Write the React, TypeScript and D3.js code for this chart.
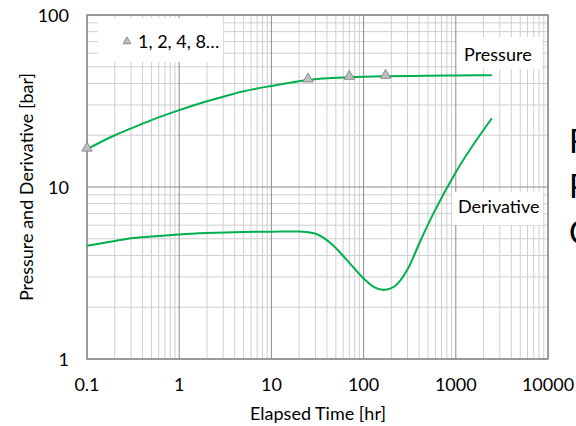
import * as d3 from "d3";

// pressure curve (hr, bar)
const pressureTime = [0.1, 0.2, 0.3, 0.5, 1, 2, 3, 5, 10, 25, 70, 173, 500, 1000, 2460];
const pressureValue = [16.6, 20, 21.9, 24.5, 28, 31.5, 33.5, 36, 38.7, 41.9, 43.4, 44, 44.3, 44.5, 44.6];

// derivative curve
const derivTime = [0.1, 0.2, 0.3, 0.5, 1, 2, 5, 10, 20, 29, 44, 66, 100, 130, 166, 214, 298, 417, 581, 1000, 2460];
const derivValue = [4.56, 4.85, 5.03, 5.15, 5.3, 5.4, 5.48, 5.5, 5.52, 5.38, 4.71, 3.76, 2.94, 2.62, 2.52, 2.63, 3.3, 4.92, 7.14, 12.2, 25.1];

// triangle markers on the pressure curve
const markerTime = [0.1, 25, 70, 173];
const markerValue = [16.6, 41.9, 43.4, 44];

const xTicks = [0.1, 1, 10, 100, 1000, 10000];
const yTicks = [1, 10, 100];

const FONT = "Lato, 'Open Sans', sans-serif";
const GREEN = "#00b050";
const FS = 18;

const App = () => {
  const left = 87, right = 548, top = 15, bottom = 359;

  const x = d3.scaleLog().domain([0.1, 10000]).range([left, right]);
  const y = d3.scaleLog().domain([1, 100]).range([bottom, top]);

  // minor grid values
  const xGrid: number[] = [];
  for (let e = -1; e < 4; e++) for (let m = 2; m <= 9; m++) xGrid.push(m * Math.pow(10, e));
  const yGrid: number[] = [];
  for (let e = 0; e < 2; e++) for (let m = 2; m <= 9; m++) yGrid.push(m * Math.pow(10, e));

  const line = d3.line<[number, number]>()
    .x((d) => x(d[0]))
    .y((d) => y(d[1]))
    .curve(d3.curveMonotoneX);

  const pressurePts = pressureTime.map((t, i) => [t, pressureValue[i]] as [number, number]);
  const derivPts = derivTime.map((t, i) => [t, derivValue[i]] as [number, number]);

  const tri = d3.symbol().type(d3.symbolTriangle).size(46)();
  const triSmall = d3.symbol().type(d3.symbolTriangle).size(26)();

  return (
    <svg width={576} height={426} style={{ position: "absolute", left: 0, top: 0, background: "#fff" }} fontFamily={FONT}>
      {/* minor grid */}
      {xGrid.map((v) => (
        <line key={"xg" + v} x1={x(v)} x2={x(v)} y1={top} y2={bottom} stroke="#cfcfcf" strokeWidth={1} />
      ))}
      {yGrid.map((v) => (
        <line key={"yg" + v} x1={left} x2={right} y1={y(v)} y2={y(v)} stroke="#cfcfcf" strokeWidth={1} />
      ))}
      {/* major grid */}
      {xTicks.map((v) => (
        <line key={"xm" + v} x1={x(v)} x2={x(v)} y1={top} y2={bottom} stroke="#8c8c8c" strokeWidth={1} />
      ))}
      {yTicks.map((v) => (
        <line key={"ym" + v} x1={left} x2={right} y1={y(v)} y2={y(v)} stroke="#8c8c8c" strokeWidth={1} />
      ))}
      <rect x={left} y={top} width={right - left} height={bottom - top} fill="none" stroke="#8c8c8c" strokeWidth={1.5} />

      {/* label boxes */}
      <rect x={98} y={18} width={125} height={44} fill="#fff" />
      <path d={triSmall} transform={`translate(127,41.5)`} fill="#bfbfbf" stroke="#8c8c8c" strokeWidth={1} />
      <text x={138} y={47.5} fontSize={FS} fill="#000">1, 2, 4, 8…</text>

      <rect x={457} y={37} width={85} height={32} fill="#fff" />
      <text x={464} y={61} fontSize={FS} fill="#000">Pressure</text>

      <rect x={452} y={192} width={91} height={33} fill="#fff" />
      <text x={458} y={213} fontSize={FS} fill="#000">Derivative</text>

      {/* curves */}
      <path d={line(pressurePts) ?? ""} fill="none" stroke={GREEN} strokeWidth={2} />
      <path d={line(derivPts) ?? ""} fill="none" stroke={GREEN} strokeWidth={2} />
      {markerTime.map((t, i) => (
        <path key={"m" + t} d={tri} transform={`translate(${x(t)},${y(markerValue[i]) - 1})`} fill="#bfbfbf" stroke="#8c8c8c" strokeWidth={1} />
      ))}

      {/* axis tick labels */}
      {xTicks.map((v) => (
        <text key={"xt" + v} x={x(v)} y={391} textAnchor="middle" fontSize={FS} fill="#000">{String(v)}</text>
      ))}
      {yTicks.map((v) => (
        <text key={"yt" + v} x={69} y={y(v) + 6.5} textAnchor="end" fontSize={FS} fill="#000">{String(v)}</text>
      ))}

      {/* axis titles */}
      <text x={318} y={420} textAnchor="middle" fontSize={FS} fill="#000">Elapsed Time [hr]</text>
      <text transform={`translate(33,${(top + bottom) / 2}) rotate(-90)`} textAnchor="middle" fontSize={FS} fill="#000">
        Pressure and Derivative [bar]
      </text>

      {/* text cut off on the right edge */}
      <text x={569} y={153} fontSize={32} fill="#000">F</text>
      <text x={569} y={198} fontSize={32} fill="#000">P</text>
      <text x={569} y={244} fontSize={32} fill="#000">C</text>
    </svg>
  );
};

export default App;
